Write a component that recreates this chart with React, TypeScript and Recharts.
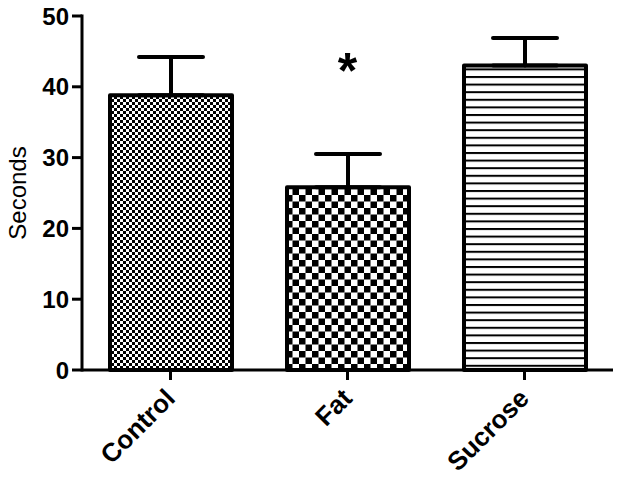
import { Bar, BarChart, Cell, ErrorBar, ReferenceDot, XAxis, YAxis } from "recharts"

const groups = ["Control", "Fat", "Sucrose"]
const means = [38.8, 25.8, 43.0]
const sem = [5.4, 4.7, 3.9]
const patterns = ["checkFine", "checkCoarse", "hLines"]
const yTicks = [0, 10, 20, 30, 40, 50]
const sigGroup = "Fat"
const sigY = 42.3

const FONT = "Arial, 'Liberation Sans', sans-serif"

const data = groups.map((g, i) => ({ name: g, value: means[i], err: [0, sem[i]] }))

const XTick = ({ x, y, payload }: any) => (
  <text
    x={x + 6}
    y={y + 20}
    textAnchor="end"
    transform={`rotate(-45, ${x + 6}, ${y + 20})`}
    fontFamily={FONT}
    fontWeight="bold"
    fontSize={26}
    fill="#000"
  >
    {payload.value}
  </text>
)

const YTick = ({ x, y, payload }: any) => (
  <text x={x} y={y} dy="0.36em" textAnchor="end" fontFamily={FONT} fontWeight="bold" fontSize={24} fill="#000">
    {payload.value}
  </text>
)

const YLabel = ({ viewBox }: any) => {
  const cx = viewBox.x + 17
  const cy = viewBox.y + viewBox.height / 2
  return (
    <text x={cx} y={cy} dy="0.36em" textAnchor="middle" transform={`rotate(-90, ${cx}, ${cy})`} fontFamily={FONT} fontSize={24} fill="#000">
      Seconds
    </text>
  )
}

export default function App() {
  return (
    <div style={{ position: "fixed", left: 0, top: 0, width: 621, height: 484, background: "#fff" }}>
      <svg width={0} height={0} style={{ position: "absolute" }}>
        <defs>
          <pattern id="checkFine" patternUnits="userSpaceOnUse" width={6} height={6}>
            <rect width={6} height={6} fill="#fff" />
            <rect width={3} height={3} fill="#000" />
            <rect x={3} y={3} width={3} height={3} fill="#000" />
          </pattern>
          <pattern id="checkCoarse" patternUnits="userSpaceOnUse" width={13} height={13}>
            <rect width={13} height={13} fill="#fff" />
            <rect width={6.5} height={6.5} fill="#000" />
            <rect x={6.5} y={6.5} width={6.5} height={6.5} fill="#000" />
          </pattern>
          <pattern id="hLines" patternUnits="userSpaceOnUse" width={8} height={7.6}>
            <rect width={8} height={7.6} fill="#fff" />
            <rect y={0} width={8} height={2} fill="#000" />
          </pattern>
        </defs>
      </svg>
      <BarChart width={621} height={484} data={data} margin={{ top: 16, right: 8, left: 0, bottom: 84 }}>
        <XAxis
          dataKey="name"
          height={30}
          tick={<XTick />}
          tickSize={10}
          tickMargin={0}
          axisLine={{ stroke: "#000", strokeWidth: 3 }}
          tickLine={{ stroke: "#000", strokeWidth: 3 }}
          interval={0}
        />
        <YAxis
          width={82}
          domain={[0, 50]}
          ticks={yTicks}
          tick={<YTick />}
          tickSize={10}
          tickMargin={3}
          axisLine={{ stroke: "#000", strokeWidth: 3, strokeLinecap: "square" }}
          tickLine={{ stroke: "#000", strokeWidth: 3 }}
          label={<YLabel />}
        />
        <Bar dataKey="value" barSize={122} stroke="#000" strokeWidth={4} strokeLinejoin="round" isAnimationActive={false}>
          {data.map((d, i) => (
            <Cell key={d.name} fill={`url(#${patterns[i]})`} />
          ))}
          <ErrorBar dataKey="err" width={32} stroke="#000" strokeWidth={4} strokeLinecap="round" isAnimationActive={false} />
        </Bar>
        <ReferenceDot
          x={sigGroup}
          y={sigY}
          r={0}
          fill="none"
          stroke="none"
          label={{ value: "*", position: "center", fontSize: 50, fontWeight: "bold", fontFamily: FONT, fill: "#000" }}
        />
      </BarChart>
    </div>
  )
}
